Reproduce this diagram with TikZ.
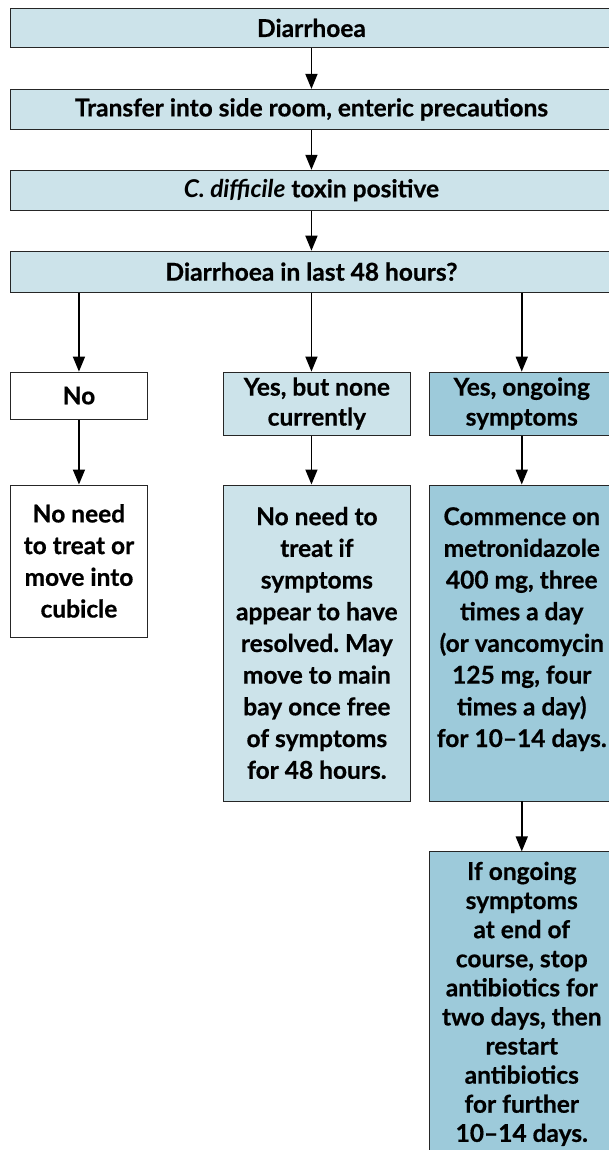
\documentclass[tikz,border=0pt]{standalone}
\usepackage{fontspec}
\setmainfont{Lato}[BoldFeatures={FakeBold=0.6}]
\usetikzlibrary{positioning, arrows.meta}
\definecolor{paleBlue}{HTML}{CCE3EA}
\definecolor{deepBlue}{HTML}{9DCADA}
\frenchspacing
\tikzstyle{flowbox} =[draw=black!85, line width=0.9pt, align=center, inner sep=0pt, font=\fontsize{24.5}{31.7}\selectfont\bfseries]
\tikzstyle{flowarrow} =[-{Triangle[length=15pt, width=12pt]}, line width=1.6pt, black]

\begin{document}
\begin{tikzpicture}[x=1pt, y=1pt]
\useasboundingbox (0,0) rectangle (609,-1150);

\node (diar) [flowbox, fill=paleBlue, anchor=north west, minimum width=602pt, minimum height=39pt] at (10,-8) {Diarrhoea};
\node (side) [flowbox, fill=paleBlue, minimum width=602pt, minimum height=40pt, below=41pt of diar] {Transfer into side room, enteric precautions};
\node (toxin) [flowbox, fill=paleBlue, minimum width=602pt, minimum height=40pt, below=40pt of side] {\textit{C. difficile} toxin positive};
\node (last48) [flowbox, fill=paleBlue, minimum width=602pt, minimum height=41pt, below=40pt of toxin] {Diarrhoea in last 48 hours?};

\node (no) [flowbox, fill=white, minimum width=137pt, minimum height=47pt, below=79pt of last48.south west, anchor=north west] {No};
\node (yesNone) [flowbox, fill=paleBlue, minimum width=187pt, minimum height=63pt, right=75pt of no.north east, anchor=north west, font=\fontsize{24.5}{30}\selectfont\bfseries] {Yes, but none\\currently};
\node (yesOngoing) [flowbox, fill=deepBlue, minimum width=185pt, minimum height=63pt, right=18pt of yesNone.north east, anchor=north west, font=\fontsize{24.5}{30}\selectfont\bfseries] {Yes, ongoing\\symptoms};

\node (noTreat) [flowbox, fill=white, minimum width=137pt, minimum height=152pt, below=65pt of no] {No need\\to treat or\\move into\\cubicle};
\node (resolved) [flowbox, fill=paleBlue, minimum width=187pt, minimum height=316pt, below=49pt of yesNone] {No need to\\treat if\\symptoms\\appear to have\\resolved. May\\move to main\\bay once free\\of symptoms\\for 48 hours.};
\node (metro) [flowbox, fill=deepBlue, minimum width=185pt, minimum height=316pt, below=49pt of yesOngoing] {Commence on\\metronidazole\\400 mg, three\\times a day\\(or vancomycin\\125 mg, four\\times a day)\\for 10--14 days.\\\mbox{}};

\node (restart) [flowbox, fill=deepBlue, minimum width=185pt, minimum height=304pt, below=50pt of metro, font=\fontsize{24.5}{29.1}\selectfont\bfseries] {If ongoing\\symptoms\\at end of\\course, stop\\antibiotics for\\two days, then\\restart\\antibiotics\\for further\\10--14 days.};

\draw[flowarrow] (diar) -- (side);
\draw[flowarrow] (side) -- (toxin);
\draw[flowarrow] (toxin) -- (last48);

\draw[flowarrow] (no.north |- last48.south) -- (no);
\draw[flowarrow] (last48.south) -- (last48.south |- yesNone.north);
\draw[flowarrow] (yesOngoing.north |- last48.south) -- (yesOngoing);

\draw[flowarrow] (no) -- (noTreat);
\draw[flowarrow] (last48.south |- yesNone.south) -- (last48.south |- resolved.north);
\draw[flowarrow] (yesOngoing) -- (metro);
\draw[flowarrow] (metro) -- (restart);

\end{tikzpicture}
\end{document}
